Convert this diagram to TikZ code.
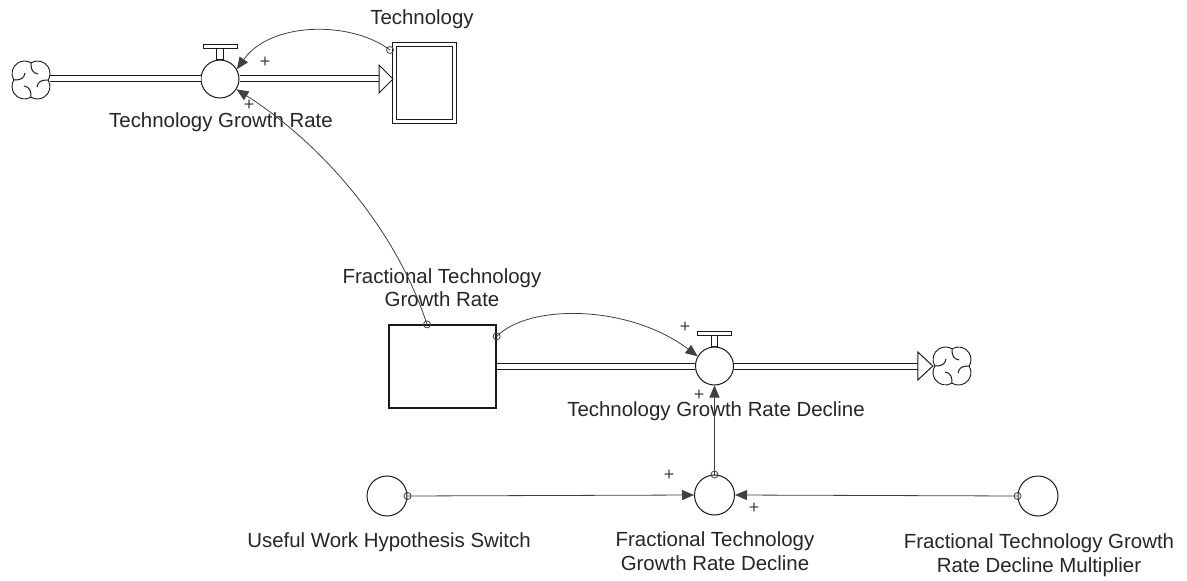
\documentclass[tikz,border=0pt]{standalone}
\usepackage{fontspec}
\setmainfont{Liberation Sans}
\usetikzlibrary{arrows.meta}
\definecolor{ink}{HTML}{1A1A1A}
\definecolor{linkc}{HTML}{404040}
\definecolor{txt}{HTML}{262626}
\tikzset{
  cloudshape/.pic={
    \draw[ink, line width=0.9bp, line join=round]
      (17.18,0) arc[start angle=-31.3, end angle=121.3, radius=12.5]
      arc[start angle=58.7, end angle=211.3, radius=12.5]
      arc[start angle=148.7, end angle=301.3, radius=12.5]
      arc[start angle=238.7, end angle=391.3, radius=12.5];
    \foreach \r in {0,90,180,270}{
      \draw[ink, line width=1bp, rotate=\r] (0,17.18) .. controls (0,11) and (-1,7) .. (-7,6);
    }
  }
}
\begin{document}
\begin{tikzpicture}[x=1bp,y=-1bp,
  pipe/.style={draw=ink, line width=1bp, double=white, double distance=5bp},
  pipehead/.style={draw=ink, line width=1bp, fill=white, line join=miter},
  stockbox/.style={draw=ink, line width=1.2bp, inner sep=0, fill=white},
  valvec/.style={circle, draw=ink, line width=1bp, minimum size=38bp, inner sep=0, fill=white},
  valvepart/.style={draw=ink, line width=1bp, fill=white},
  auxc/.style={circle, draw=ink, line width=1bp, minimum size=40bp, inner sep=0},
  cloudn/.style={circle, minimum size=38bp, inner sep=0},
  link/.style={draw=linkc, line width=0.8bp, -{Triangle[length=12bp,width=10bp]}},
  tailc/.style={draw=linkc, line width=0.8bp},
  lbl/.style={font=\fontsize{20.5}{24}\selectfont, text=txt, inner sep=0, align=center},
  pl/.style={font=\fontsize{18}{18}\selectfont, text=linkc, inner sep=0},
]
\useasboundingbox[fill=white] (0,0) rectangle (1187,581);

% ---- top row ----
\node[cloudn] (cloudL) at (31,80) {};
\pic at (cloudL.center) {cloudshape};
\node[valvec] (valve1) at (220,79) {};
\node[stockbox, double=white, double distance=3bp, line width=1bp,
      minimum width=60bp, minimum height=77bp] (tech) at (424.5,83) {};

\draw[pipe] (cloudL.east |- valve1.west) -- (valve1.west);
\coordinate (techin) at (tech.west |- valve1.east);
\draw[pipe] (valve1.east) -- ([xshift=-15bp]techin);
\draw[pipehead] ([xshift=-15bp,yshift=14bp]techin) -- ([xshift=-1bp]techin) -- ([xshift=-15bp,yshift=-14bp]techin) -- cycle;
\draw[valvepart] ([xshift=-3.5bp]valve1.north) rectangle ([xshift=3.5bp,yshift=11bp]valve1.north);
\draw[valvepart] ([xshift=-17bp,yshift=11bp]valve1.north) rectangle ([xshift=17bp,yshift=15bp]valve1.north);

\node[lbl, anchor=base] (techlab) at (422,25) {Technology};
\node[lbl, anchor=base] (v1lab) at (221,128) {Technology Growth Rate};

% ---- middle row ----
\node[stockbox, minimum width=107bp, minimum height=83bp] (ftgr) at (442.5,366.5) {};
\node[valvec] (valve2) at (714.5,366) {};
\node[cloudn] (cloudR) at (952,366) {};
\pic at (cloudR.center) {cloudshape};

\draw[pipe] (ftgr.east |- valve2.west) -- (valve2.west);
\draw[pipe] (valve2.east) -- ([xshift=-15bp]cloudR.west);
\draw[pipehead] ([xshift=-15bp,yshift=14bp]cloudR.west) -- (cloudR.west) -- ([xshift=-15bp,yshift=-14bp]cloudR.west) -- cycle;
\draw[valvepart] ([xshift=-3bp]valve2.north) rectangle ([xshift=3bp,yshift=11bp]valve2.north);
\draw[valvepart] ([xshift=-17bp,yshift=11bp]valve2.north) rectangle ([xshift=17bp,yshift=15bp]valve2.north);

\node[lbl, anchor=base] (ftgrlab) at (442,307) {Fractional Technology\\Growth Rate};
\node[lbl, anchor=base] (v2lab) at (716,416) {Technology Growth Rate Decline};

% ---- bottom row ----
\node[auxc] (uwhs) at (387,496) {};
\node[auxc] (ftgrd) at (714.5,495) {};
\node[auxc] (mult) at (1038,496) {};

\node[lbl, anchor=base] (uwhslab) at (389,547) {Useful Work Hypothesis Switch};
\node[lbl, anchor=base] (ftgrdlab) at (715,570) {Fractional Technology\\Growth Rate Decline};
\node[lbl, anchor=base] (multlab) at (1039,572) {Fractional Technology Growth\\Rate Decline Multiplier};

% ---- links ----
\coordinate (t1) at ([xshift=-4bp,yshift=-6bp]tech.north west);
\draw[link] (t1) .. controls (350,20) and (270,22) .. (valve1.30);
\draw[tailc] (t1) circle[radius=3.5bp];

\coordinate (t2) at ([xshift=-15.5bp]ftgr.north);
\draw[link] (t2) .. controls (396,229) and (322,144) .. (valve1.-32);
\draw[tailc] (t2) circle[radius=3.5bp];

\coordinate (t3) at ([yshift=-12bp]ftgr.north east);
\draw[link] (t3) .. controls (530,303) and (630,305) .. (valve2.150);
\draw[tailc] (t3) circle[radius=3.5bp];

\draw[link] (ftgrd.north) -- (valve2.south);
\draw[tailc] (ftgrd.north) circle[radius=3.5bp];

\draw[link] (uwhs.east) -- (ftgrd.west);
\draw[tailc] (uwhs.east) circle[radius=3.5bp];

\draw[link] (mult.west) -- (ftgrd.east);
\draw[tailc] (mult.west) circle[radius=3.5bp];

% ---- polarity signs ----
\node[pl] (p1) at (265,62) {+};
\node[pl] (p2) at (249,105) {+};
\node[pl] (p3) at (685,327) {+};
\node[pl] (p4) at (699,395) {+};
\node[pl] (p5) at (669,475) {+};
\node[pl] (p6) at (754,508) {+};
\end{tikzpicture}
\end{document}
